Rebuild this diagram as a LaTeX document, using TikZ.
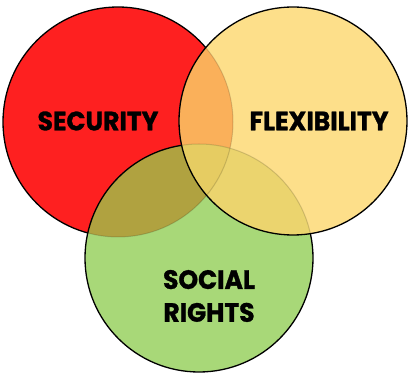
\documentclass[tikz,border=0pt]{standalone}
\usepackage{fontspec}
\newfontfamily\labfont{Poppins}[BoldFeatures={FakeBold=1.2}]
\definecolor{cred}{HTML}{FE2020}
\definecolor{cyel}{HTML}{FDDF8A}
\definecolor{cgrn}{HTML}{A8D878}
\definecolor{corange}{HTML}{FAB05A}
\definecolor{colive}{HTML}{B0A240}
\definecolor{cyg}{HTML}{EBD46E}
\definecolor{ccenter}{HTML}{E6CC62}
\def\circRed{(118,122) circle[radius=115pt]}
\def\circYel{(293,121) circle[radius=114pt]}
\def\circGrn{(199,258) circle[radius=114pt]}
\begin{document}
\begin{tikzpicture}[x=1pt,y=-1pt,
  rim/.style={draw=black,line width=1.3pt},
  faint/.style={draw=black,draw opacity=0.15,line width=1pt},
  lab/.style={font=\labfont\bfseries\fontsize{25}{31}\selectfont,text=black,align=center,inner sep=0pt,yscale=1.06}]
\useasboundingbox (0,0) rectangle (408,374);
% red
\fill[cred] \circRed;
\draw[rim] \circRed;
% green
\fill[cgrn] \circGrn;
\begin{scope}
  \clip \circGrn;
  \fill[colive] \circRed;
  \draw[faint] \circRed;
\end{scope}
\draw[rim] \circGrn;
% yellow
\fill[cyel] \circYel;
\begin{scope}
  \clip \circYel;
  \fill[corange] \circRed;
  \fill[cyg] \circGrn;
  \begin{scope}
    \clip \circRed;
    \fill[ccenter] \circGrn;
  \end{scope}
  \draw[faint] \circRed;
  \draw[faint] \circGrn;
\end{scope}
\draw[rim] \circYel;
% labels
\node[lab] (sec) at (98,121) {SECURITY};
\node[lab] (flex) at (319,121) {FLEXIBILITY};
\node[lab] (soc) at (209,296) {SOCIAL\\RIGHTS};
\end{tikzpicture}
\end{document}
